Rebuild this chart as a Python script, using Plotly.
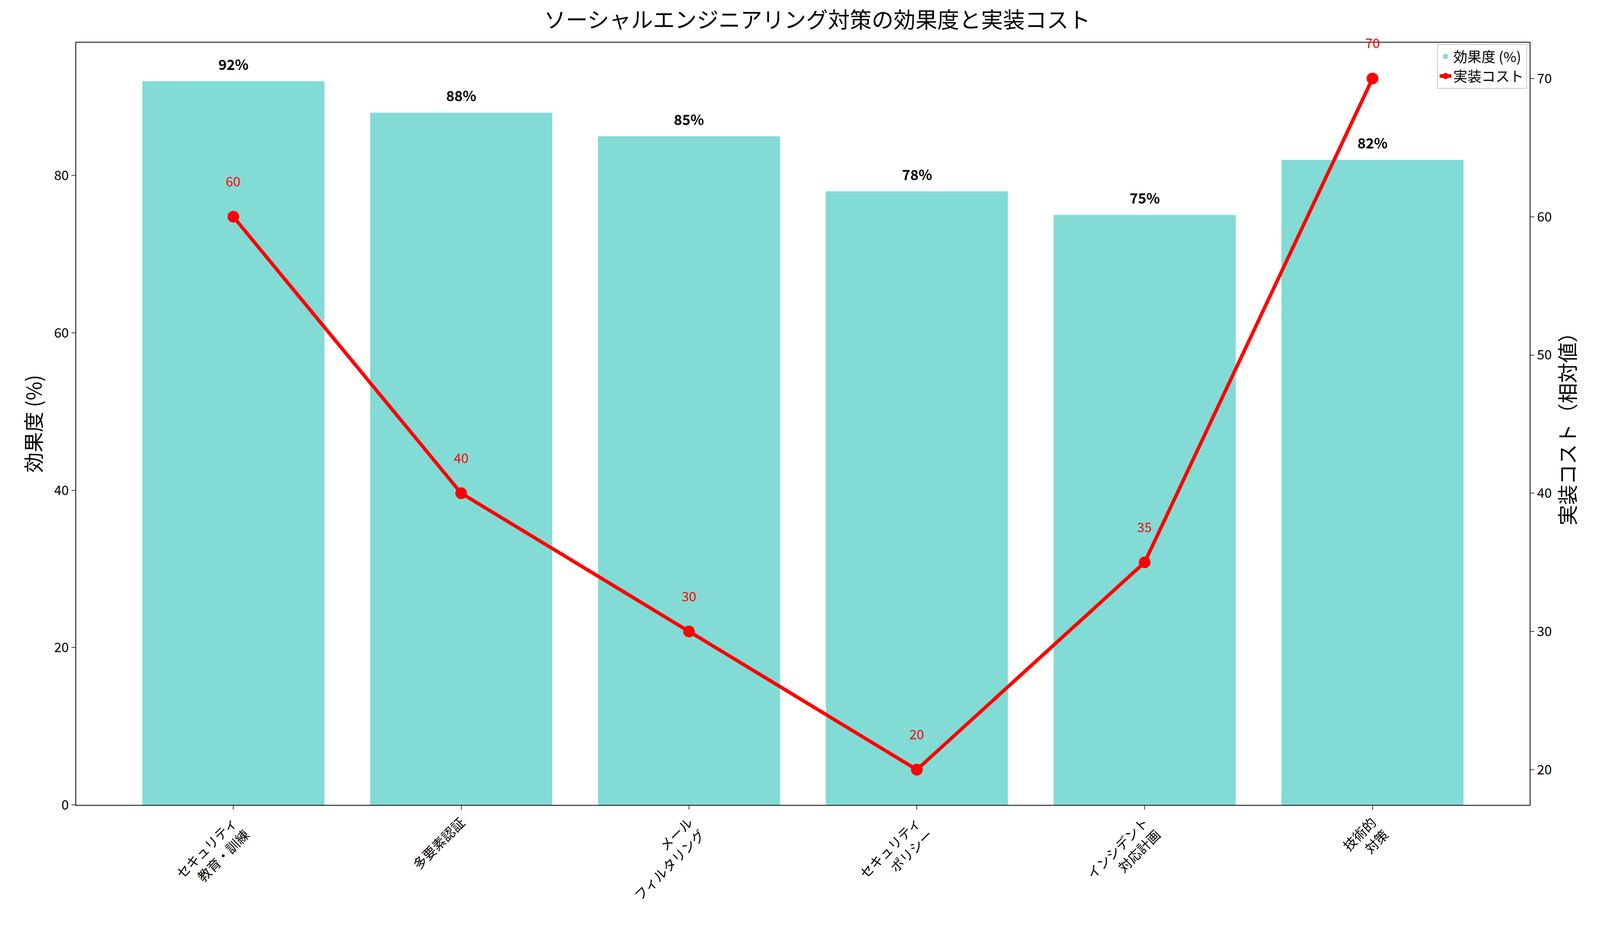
import plotly.graph_objects as go

categories = ["セキュリティ<br>教育・訓練", "多要素認証", "メール<br>フィルタリング", "セキュリティ<br>ポリシー", "インシデント<br>対応計画", "技術的<br>対策"]
effectiveness = [92, 88, 85, 78, 75, 82]
cost = [60, 40, 30, 20, 35, 70]

F = "Noto Sans CJK JP"
x = list(range(len(categories)))
fig = go.Figure()
fig.add_trace(go.Bar(x=x, y=effectiveness, width=0.8, marker_color="#4ecdc4", opacity=0.7,
                     name="効果度 (%)", yaxis="y"))
fig.add_trace(go.Scatter(x=x, y=cost, mode="lines+markers", name="実装コスト",
                         line=dict(color="red", width=9), marker=dict(size=30, color="red"), yaxis="y2"))
ann = []
for i, v in enumerate(effectiveness):
    ann.append(dict(x=i, y=v, xref="x", yref="y", text=f"<b>{v}%</b>", showarrow=False,
                    yshift=45, font=dict(size=36, color="black", family=F)))
for i, v in enumerate(cost):
    ann.append(dict(x=i, y=v, xref="x", yref="y2", text=str(v), showarrow=False,
                    yshift=92, font=dict(size=34, color="red", family=F)))
fig.update_layout(
    width=4168, height=2375, plot_bgcolor="white", paper_bgcolor="white",
    font=dict(family=F, size=34, color="black"),
    margin=dict(l=187, r=260, t=101, b=323),
    title=dict(text="ソーシャルエンジニアリング対策の効果度と実装コスト", x=0.5, xanchor="center",
               y=0.99, yanchor="top", font=dict(size=56)),
    xaxis=dict(tickmode="array", tickvals=x, ticktext=categories, tickangle=-45, range=[-0.69, 5.69],
               showline=True, linecolor="black", linewidth=2, mirror=True, ticks="outside",
               ticklen=10, tickwidth=2, showgrid=False, tickfont=dict(size=34)),
    yaxis=dict(title=dict(text="効果度 (%)", font=dict(size=52)), range=[0, 96.9], showgrid=False,
               showline=True, linecolor="black", linewidth=2, ticks="outside", ticklen=10, tickwidth=2,
               dtick=20, zeroline=False),
    yaxis2=dict(title=dict(text="実装コスト（相対値）", font=dict(size=52), standoff=20), overlaying="y",
                side="right", range=[17.45, 72.6], showgrid=False, showline=True, linecolor="black",
                linewidth=2, ticks="outside", ticklen=10, tickwidth=2, dtick=10, zeroline=False),
    legend=dict(x=0.998, y=0.998, xanchor="right", yanchor="top", bordercolor="#cccccc", borderwidth=2,
                bgcolor="rgba(255,255,255,0.8)", font=dict(size=36)),
    annotations=ann, bargap=0.2,
)
fig.write_html("out.html")
